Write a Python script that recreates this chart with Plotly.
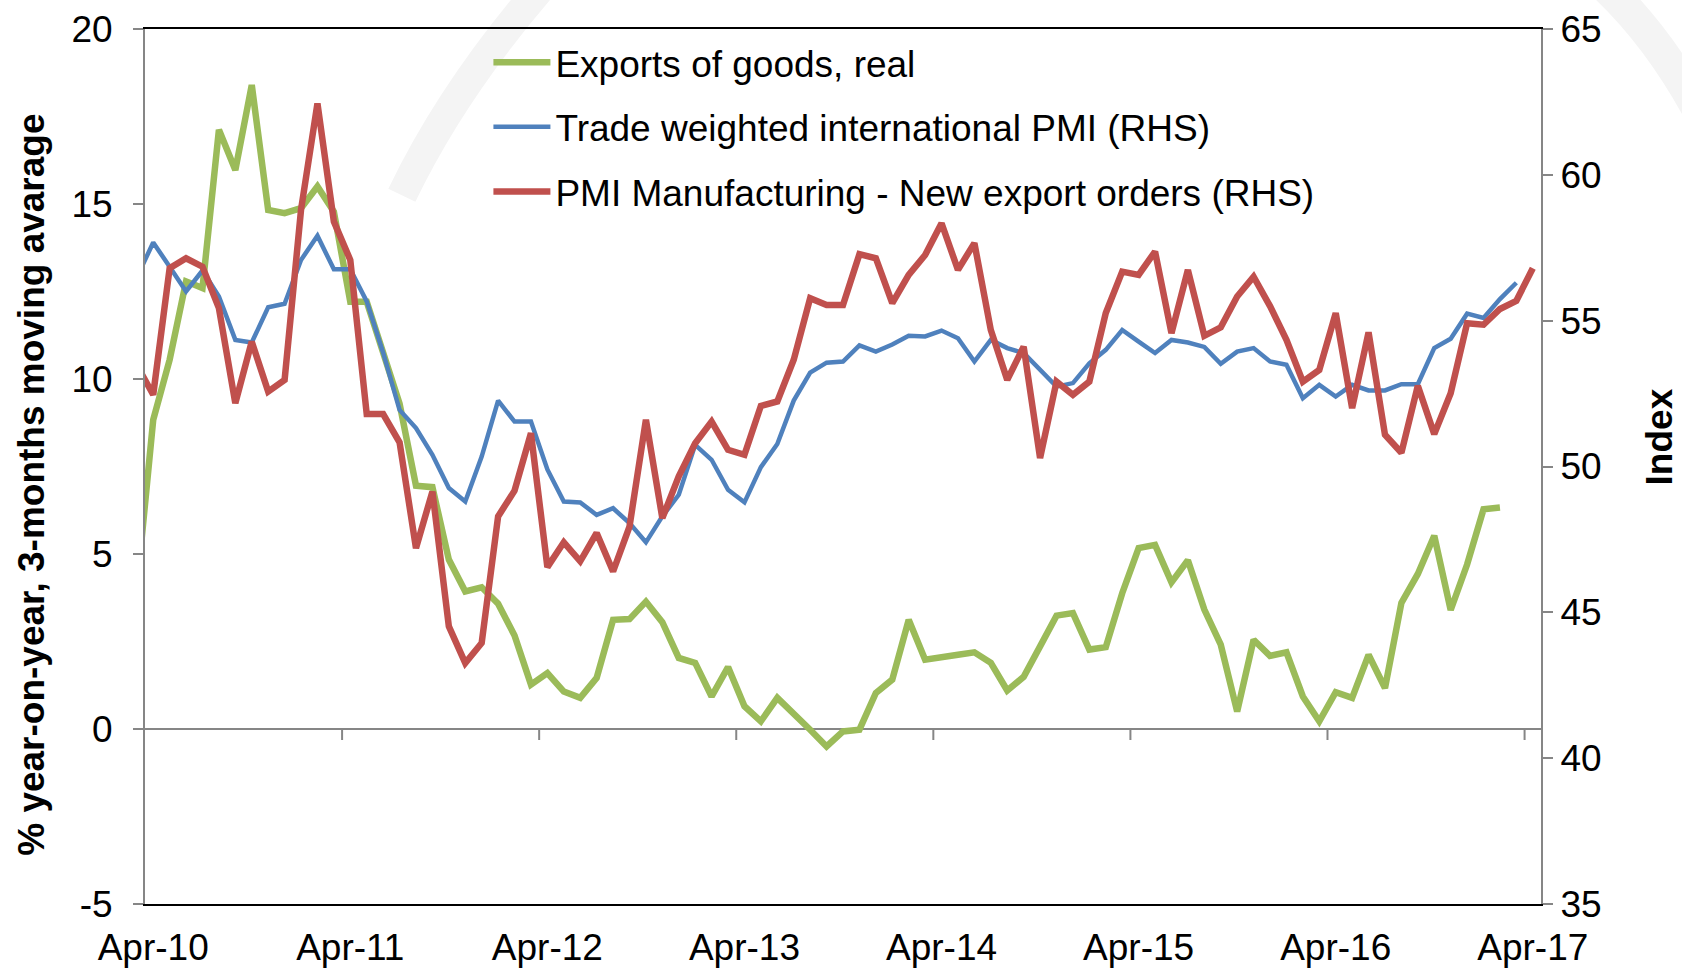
import plotly.graph_objects as go

# ---- data (monthly, first observation = Mar-10, partly outside the axis) ----
tick_labels = ["Apr-10", "Apr-11", "Apr-12", "Apr-13", "Apr-14", "Apr-15", "Apr-16", "Apr-17"]

exports_real = [
    4.0, 8.83, 10.55, 12.79, 12.6, 17.12, 15.97, 18.40, 14.83, 14.74, 14.88, 15.5, 14.78,
    12.21, 12.21, 10.8, 9.3, 6.95, 6.91, 4.84, 3.93, 4.05, 3.58, 2.67, 1.27,
    1.6, 1.07, 0.89, 1.46, 3.12, 3.14, 3.64, 3.05, 2.03, 1.89, 0.93, 1.77,
    0.65, 0.22, 0.89, 0.46, -0.02, -0.5, -0.07, -0.02, 1.03, 1.41, 3.12, 1.98,
    2.03, 2.12, 2.19, 1.89, 1.1, 1.49, 2.36, 3.24, 3.31, 2.27, 2.34, 3.88,
    5.17, 5.26, 4.19, 4.82, 3.41, 2.41, 0.5, 2.55, 2.09, 2.19, 0.93, 0.22,
    1.05, 0.89, 2.12, 1.17, 3.6, 4.43, 5.52, 3.4, 4.7, 6.28, 6.33,
]

trade_weighted_pmi = [
    56.48, 57.68, 56.85, 56.0, 56.72, 55.83, 54.34, 54.25, 55.46, 55.58, 57.08, 57.91, 56.76,
    56.76, 55.66, 53.9, 51.94, 51.32, 50.4, 49.26, 48.8, 50.34, 52.26, 51.54, 51.54,
    49.9, 48.8, 48.77, 48.34, 48.57, 48.06, 47.4, 48.29, 49.03, 50.74, 50.23, 49.2,
    48.77, 49.98, 50.77, 52.26, 53.22, 53.56, 53.6, 54.15, 53.94, 54.18, 54.48, 54.46,
    54.66, 54.4, 53.6, 54.34, 54.06, 53.89, 53.31, 52.74, 52.86, 53.54, 54.0, 54.68,
    54.28, 53.89, 54.34, 54.25, 54.1, 53.52, 53.94, 54.06, 53.6, 53.49, 52.34, 52.8,
    52.4, 52.8, 52.61, 52.61, 52.82, 52.82, 54.06, 54.38, 55.24, 55.09, 55.74, 56.3,
]

pmi_new_export_orders = [
    53.48, 52.46, 56.8, 57.14, 56.85, 55.43, 52.17, 54.28, 52.57, 52.97, 58.8, 62.45, 58.4,
    57.08, 51.8, 51.8, 50.83, 47.2, 49.14, 44.52, 43.26, 43.95, 48.29, 49.17, 51.14,
    46.55, 47.4, 46.75, 47.72, 46.4, 47.94, 51.6, 48.23, 49.66, 50.8, 51.54, 50.57,
    50.4, 52.08, 52.23, 53.66, 55.77, 55.54, 55.54, 57.28, 57.14, 55.6, 56.57, 57.25,
    58.34, 56.74, 57.66, 54.68, 52.97, 54.11, 50.29, 52.91, 52.46, 52.91, 55.26, 56.68,
    56.57, 57.37, 54.57, 56.74, 54.48, 54.77, 55.83, 56.51, 55.5, 54.34, 52.91, 53.31,
    55.26, 52.0, 54.6, 51.09, 50.47, 52.77, 51.11, 52.51, 54.91, 54.86, 55.4, 55.68, 56.8,
]

left_ticks = [-5, 0, 5, 10, 15, 20]
right_ticks = [35, 40, 45, 50, 55, 60, 65]

left_title = "% year-on-year, 3-months moving avarage"
right_title = "Index"

# month index positions: observations sit mid-month, year ticks at month boundaries
def month_x(series):
    return [i - 0.5 for i in range(len(series))]

tick_pos = [12 * i for i in range(len(tick_labels))]
label_pos = [p + 0.5 for p in tick_pos]

GREEN = "#9BBB59"
BLUE = "#4F81BD"
RED = "#C0504D"
AXIS_GRAY = "#868686"
FONT = "Liberation Sans, Arial, sans-serif"
FS = 37

fig = go.Figure()
fig.add_trace(go.Scatter(x=month_x(exports_real), y=exports_real, mode="lines",
                         name="Exports of goods, real", legendgroup="a",
                         line=dict(color=GREEN, width=6.5)))
fig.add_trace(go.Scatter(x=month_x(trade_weighted_pmi), y=trade_weighted_pmi, mode="lines",
                         name="Trade weighted international PMI (RHS)", legendgroup="b",
                         line=dict(color=BLUE, width=4.5), yaxis="y2"))
fig.add_trace(go.Scatter(x=month_x(pmi_new_export_orders), y=pmi_new_export_orders, mode="lines",
                         name="PMI Manufacturing - New export orders (RHS)", legendgroup="c",
                         line=dict(color=RED, width=6.5), yaxis="y2"))

# tick marks on the horizontal (zero) axis
for p in tick_pos[1:]:
    fig.add_shape(type="line", xref="x", yref="y", x0=p, x1=p,
                  ysizemode="pixel", yanchor=0, y0=0, y1=-11,
                  line=dict(color=AXIS_GRAY, width=2))

# faint watermark arcs
fig.add_shape(type="path", xref="paper", yref="paper", layer="below",
              path="M 0.184,0.81 Q 0.22,0.93 0.285,1.05",
              line=dict(color="#F4F4F4", width=30))
fig.add_shape(type="path", xref="paper", yref="paper", layer="below",
              path="M 1.045,1.05 Q 1.085,0.99 1.115,0.9",
              line=dict(color="#F4F4F4", width=32))

# axis titles
fig.add_annotation(text=left_title, xref="paper", yref="paper", x=-0.081, y=0.479,
                   xanchor="center", yanchor="middle", textangle=-90, showarrow=False,
                   font=dict(size=FS, weight="bold", family=FONT))
fig.add_annotation(text=right_title, xref="paper", yref="paper", x=1.085, y=0.534,
                   xanchor="center", yanchor="middle", textangle=-90, showarrow=False,
                   font=dict(size=FS, weight="bold", family=FONT))

fig.update_layout(
    width=1682, height=969,
    margin=dict(l=145, r=141, t=29, b=65, autoexpand=False),
    paper_bgcolor="white", plot_bgcolor="rgba(0,0,0,0)",
    font=dict(family=FONT, size=FS, color="black"),
    showlegend=True,
    legend=dict(x=0.246, y=0.997, xanchor="left", yanchor="top",
                bgcolor="rgba(0,0,0,0)", font=dict(size=FS),
                itemwidth=57, tracegroupgap=13.5, traceorder="grouped"),
    xaxis=dict(range=[0, 85], tickvals=label_pos, ticktext=tick_labels, ticks="",
               showline=True, linecolor="black", linewidth=2, mirror=True,
               showgrid=False, zeroline=False, tickfont=dict(size=FS),
               ticklabelstandoff=10, automargin=False),
    yaxis=dict(range=[-5, 20], tickvals=left_ticks, ticktext=[str(v) for v in left_ticks],
               ticks="outside", ticklen=10, ticklabelstandoff=13,
               tickcolor=AXIS_GRAY, tickwidth=2, showline=True, linecolor=AXIS_GRAY,
               linewidth=2, showgrid=False, zeroline=True, zerolinecolor=AXIS_GRAY,
               zerolinewidth=2, tickfont=dict(size=FS), automargin=False),
    yaxis2=dict(range=[35, 65], tickvals=right_ticks, ticktext=[str(v) for v in right_ticks],
                overlaying="y", side="right",
                ticks="outside", ticklen=10, tickcolor=AXIS_GRAY, tickwidth=2,
                showline=True, linecolor=AXIS_GRAY, linewidth=2, showgrid=False,
                zeroline=False, tickfont=dict(size=FS), automargin=False),
)

fig.write_html("out.html", config={"displayModeBar": False},
               post_script="document.body.style.margin='0px';")
